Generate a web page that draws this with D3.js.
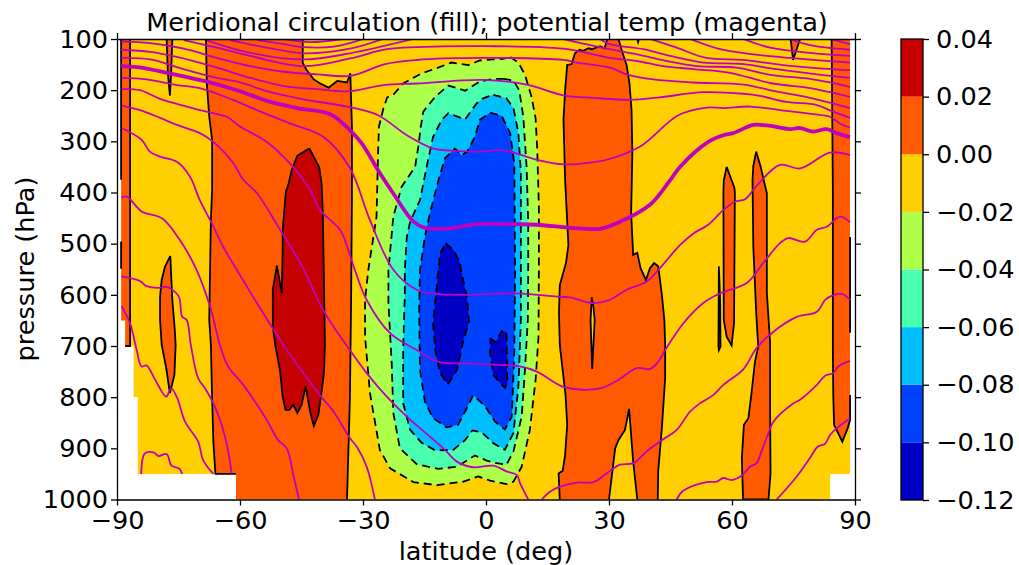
<!DOCTYPE html>
<html>
<head>
<meta charset="utf-8">
<title>Meridional circulation</title>
<style>
  html, body { margin: 0; background: #fff; }
  text { font-family: "DejaVu Sans", sans-serif; fill: #000; }
</style>
</head>
<body>
<div id="container"></div>
<script src="https://d3js.org/d3.v7.min.js"></script>
<script>

// axis ticks
const latTicks = [-90, -60, -30, 0, 30, 60, 90];
const pressureTicks = [100, 200, 300, 400, 500, 600, 700, 800, 900, 1000];

// contour levels and the fill of each band, lowest first
const levels = [-0.12, -0.10, -0.08, -0.06, -0.04, -0.02, 0.00, 0.02, 0.04];
const bandColors = ["#0000c4", "#0040ff", "#00bfff", "#4affad", "#adff4a", "#ffcf00", "#ff5a00", "#c40000"];

// where the field has data, [lat, hPa]; below-ground cells are missing
const validArea = [[-89,100],[88.8,100],[88.8,950],[84,950],[84,1000],[-61,1000],[-61,950],[-85,950],[-85,800],[-86,800],[-86,700],[-88,700],[-88,650],[-89,650]];

// black lines running along the edge of the data
const edgeLines = [
  [[-89,100],[-89,375]],
  [[-89,496],[-89,549]],
  [[88.8,487],[88.8,674]],
  [[88.8,796],[88.8,845]]
];

// 0 to 0.02 areas
const polarStrip = [[-86.8,100],[-86.8,700],[-88,700]];
const spikeSouth = [[-77.9,100],[-77.6,166],[-77.1,211],[-76.8,166],[-76.5,100]];
const southWest = [[-68.3,100],[-68.1,186],[-67.5,252],[-66.8,297],[-66.8,395],[-67.1,454],[-67.5,649],[-67.1,698],[-66.8,802],[-66.5,887],[-66,950],[-61,950]];
const southEast = [[-44.7,100],[-44.7,147],[-43.7,161],[-42,179],[-40.4,187],[-38.4,195],[-36.3,182],[-33.9,185],[-33.1,167],[-32.7,270],[-32.7,415],[-32.9,610],[-33.2,805],[-33.9,1000]];
const islandSouth = [[-77,524],[-76.5,610],[-75.9,669],[-75.7,698],[-76,757],[-77.1,792],[-78,743],[-79.1,698],[-79.5,649],[-79.5,604],[-79.1,571],[-78.3,545]];
const midEast = [[32.3,100],[33.3,127],[34.3,151],[35,187],[35.5,239],[35.7,323],[35.4,440],[35.9,522],[36.9,518],[37.7,548],[39,571],[40,548],[41,538],[42,544],[42.9,600],[43.5,649],[43.7,698],[43.7,762],[42.9,860],[42,945],[41.9,1000]];
const midNotch = [[36.9,1000],[35.9,926],[34.9,823],[33.9,864],[32.3,884],[31.5,900],[30,1000]];
const midWest = [[18,1000],[17.7,949],[18.7,944],[19.3,913],[19.8,854],[19.4,796],[18,698],[17.8,635],[18,581],[19.5,538],[20.1,503],[19.3,376],[18.9,258],[19.3,200],[19.8,151],[20.9,149],[21.7,128],[22.8,121],[23.7,123],[25,118],[25.8,120],[27.8,114],[28.9,118],[29.6,100]];
const tinyDot = [[36.9,100],[37.1,106],[37.3,100]];
const thinSpike = [[56.8,544],[57.1,610],[57.2,701],[56.8,708],[56.7,701]];
const island60 = [[58.7,350],[60.6,391],[60.7,401],[60.5,655],[59.9,699],[58.7,682],[58,649],[57.9,401],[58,376]];
const island65 = [[65.9,320],[67,350],[68,385],[68.5,401],[68.5,596],[69.3,694],[69.3,828],[69.4,949],[68.9,1000],[62.7,1000],[62.4,919],[62.9,854],[64,841],[64.8,789],[65.6,731],[66.4,701],[65.9,635],[65.2,506],[65,376],[65.2,348]];
const spikeNorth = [[74.3,100],[74.9,141],[76.6,100]];
const northStrip = [[84.3,100],[84.6,395],[84.6,708],[84.7,796],[84.9,854],[86.9,887],[88.2,861],[88.8,845]];

// 0.02 to 0.04
const southCore = [[-43.1,314],[-40.7,350],[-40.1,382],[-39.8,440],[-39.4,635],[-39.3,698],[-39.5,750],[-40.1,789],[-40.9,835],[-42,856],[-42.9,828],[-44,779],[-45,815],[-46,831],[-47,815],[-48,825],[-48.9,825],[-49.6,799],[-50.2,750],[-51.4,698],[-52,662],[-52,590],[-51,543],[-49.8,597],[-49.6,512],[-49.6,473],[-48.8,398],[-48.2,385],[-47.4,356],[-46,328]];

// yellow sliver inside the orange cell
const sliver = [[25.8,605],[25.5,649],[25.7,698],[25.9,745],[26.2,698],[26.5,649],[26.2,623]];

// the negative cell, outermost contour first
const cell002 = [[5.9,135],[7.9,146],[9.5,170],[11.1,213],[12.1,255],[12.5,317],[12.9,428],[12.9,551],[12.8,682],[12.1,766],[10.7,864],[8.7,936],[6.7,965],[5,970],[1,963],[-1.9,955],[-5.5,965],[-12,972],[-17.7,966],[-23.4,939],[-25.9,903],[-28.3,792],[-29.5,682],[-29.5,610],[-28.7,551],[-26.7,447],[-26.3,317],[-26.1,271],[-25,235],[-24.1,214],[-22.6,209],[-20.2,187],[-15.7,167],[-12,157],[-8.4,146],[-4.3,151],[-1.5,142],[1.8,140],[4.2,139]];
const cell004 = [[4.2,178],[6.7,181],[8.1,200],[9.1,252],[9.9,350],[10.3,460],[10.3,551],[10.2,649],[9.5,747],[8.7,838],[6.7,906],[5,932],[2.6,929],[0.2,924],[-2.7,914],[-7.1,936],[-11.6,940],[-16.9,931],[-21,900],[-22.6,831],[-23,734],[-23.8,616],[-23.8,551],[-22.6,447],[-20.6,389],[-17.3,350],[-16.5,310],[-15.9,271],[-15.3,242],[-12.4,213],[-9.2,191],[-5.1,201],[-1.5,183],[1.8,178]];
const cell006 = [[1.8,209],[5,216],[6.7,235],[7.9,284],[8.5,362],[8.5,551],[8.5,649],[7.9,779],[6.7,870],[4.6,903],[1.8,890],[-1,869],[-3.3,865],[-5.1,884],[-8,903],[-12.4,904],[-15.7,889],[-18.5,864],[-20.2,812],[-20.2,708],[-19.8,597],[-19.8,551],[-19.3,486],[-18.5,457],[-16.1,415],[-14.3,343],[-12.9,291],[-10.8,258],[-9.2,245],[-5.1,257],[-2.3,226],[-0.7,216]];
const cell008 = [[1,244],[3.8,250],[5.9,284],[6.9,343],[7.1,551],[6.9,714],[6.3,838],[4.6,863],[2.2,848],[-0.2,818],[-3.1,796],[-5.1,828],[-6.8,854],[-9.6,859],[-12.9,841],[-14.9,809],[-16.1,747],[-16.3,630],[-16.1,551],[-14.9,486],[-13.7,441],[-11.6,376],[-10,333],[-7.6,314],[-5.9,327],[-4.6,320],[-2.7,291],[-1.5,258]];
const cell010 = [[-9.8,499],[-7.8,514],[-6.3,538],[-6.1,551],[-4.7,604],[-4.1,652],[-5.5,688],[-7.1,747],[-9.3,775],[-11.2,753],[-12.4,708],[-12.9,656],[-11.6,551],[-11.2,519]];
const cell010b = [[1.1,685],[2.4,693],[3.8,671],[5,672],[5.2,773],[4.6,782],[1.8,757],[1,714]];

// potential temperature, thick one is the tropopause level
const thetaThick = [[-89,153],[-85.1,155],[-77.8,166],[-68.8,182],[-60,202],[-53.4,221],[-46.1,235],[-38,247],[-33.2,278],[-30.3,304],[-25.9,362],[-22.6,402],[-17.7,457],[-14.9,469],[-8.8,470],[-2.3,462],[7.5,462],[12.4,463],[20.5,469],[27.8,471],[31.9,460],[40,424],[44.9,376],[47.3,350],[54.2,301],[57.9,288],[60.3,284],[65.2,268],[68.5,269],[74.1,276],[76.6,274],[79.8,281],[83.1,276],[85.5,284],[88.8,292]];
const theta1 = [[-89,137],[-81.9,140],[-73.7,159],[-65.6,176],[-59.9,185],[-53.4,202],[-44.5,218],[-33.2,233],[-26.3,249],[-19.3,288],[-12.9,314],[-8.8,318],[-0.7,320],[4.1,317],[12.4,336],[18.9,345],[23.7,343],[29.4,336],[37.6,310],[46.9,249],[53.8,234],[57.9,235],[64.4,232],[71.7,239],[79.8,247],[83.9,252],[86.3,265],[88.8,273]];
const theta2 = [[-89,121],[-81.9,125],[-75.4,135],[-65.6,156],[-57.5,176],[-49.3,192],[-41.2,198],[-33.1,202],[-25,190],[-16.9,187],[-0.7,180],[9.9,189],[18.9,210],[26.2,215],[35.1,219],[42.4,214],[53,204],[62.8,207],[66.8,211],[73.3,223],[80.7,229],[84.3,241],[88.8,254]];
const theta3 = [[-89,105],[-81.9,108],[-73.7,119],[-65.6,137],[-57.5,153],[-49.3,164],[-41.2,169],[-33.1,172],[-24.6,149],[-16.9,141],[-0.7,137],[18.9,141],[22.1,146],[30.2,156],[34.3,169],[40.8,179],[50.6,185],[62.8,189],[71,203],[79,215],[88.8,235]];
const theta4 = [[-73.7,102],[-65.6,117],[-57.5,133],[-44.5,153],[-33.2,138],[-24.2,120],[-16.9,116],[-0.7,114],[18.9,119],[30.2,137],[36.8,143],[43.2,153],[50.6,159],[59.5,166],[69.3,186],[79,196],[83.9,204],[88.8,213]];
const theta5 = [[-68,103],[-57.5,127],[-44.5,140],[-33.2,128],[-17.8,100]];
const theta6 = [[-62.4,102],[-53.4,117],[-44.5,128],[-33.2,119],[-25.1,100]];
const theta7 = [[-55.9,102],[-49.3,110],[-44.5,116],[-37.1,115],[-33.2,108],[-29.8,100]];
const theta8 = [[-49.3,100],[-42.9,106],[-34.7,100]];
const theta9 = [[18.9,100],[25.4,112],[30.2,120],[36.8,130],[44.1,143],[51.4,153],[61.1,156],[69.3,170],[79,178],[83.9,185],[88.8,194]];
const theta10 = [[27.8,100],[30.2,110],[38.4,120],[44.9,133],[53,146],[62.8,149],[70.9,159],[80.7,169],[88.8,176]];
const theta11 = [[40,100],[46.5,117],[53.8,137],[62.8,141],[72.5,151],[82.3,158],[88.8,161]];
const theta12 = [[49.8,100],[57.1,120],[65.2,130],[74.1,137],[88.8,146]];
const theta13 = [[62.8,100],[69.3,117],[79,127],[88.8,133]];
const theta14 = [[74.1,100],[79,112],[88.8,121]];
const theta15 = [[83.9,100],[88.8,110]];
const thetaA = [[-88.9,176],[-82.8,179],[-75.4,190],[-69.8,196],[-61.7,219],[-55.9,239],[-47.8,265],[-39.7,291],[-33.2,352],[-28.3,454],[-22.6,551],[-16.9,590],[-12,598],[-4.7,600],[7.5,597],[18,604],[20.5,605],[25.8,616],[29.8,611],[34.3,590],[39.2,574],[42.4,548],[47.3,503],[50.6,480],[54.2,463],[57.9,434],[60.7,418],[63.2,413],[66,387],[71.7,346],[76.6,353],[83.9,322],[88.8,327]];
const thetaB = [[-88.9,198],[-84.4,200],[-79.5,217],[-73,232],[-66.6,245],[-63.2,252],[-60,271],[-53.5,301],[-47.1,350],[-42.9,395],[-40.5,434],[-35.6,473],[-33.3,519],[-32,551],[-29.1,610],[-23.4,675],[-16.9,708],[-11.6,731],[-4.7,734],[1,736],[8.3,740],[12.4,750],[19.3,781],[27.8,783],[31.9,768],[36.8,743],[40,745],[42,731],[43.7,708],[48.1,656],[53,616],[57.1,597],[63.6,577],[67.6,538],[71.7,499],[73.7,489],[77.8,496],[80.7,473],[83.1,467],[86.3,447],[88.8,458]];
const thetaC = [[-88.9,230],[-84.4,239],[-79.5,254],[-75.4,268],[-69.8,284],[-66.5,301],[-61.7,342],[-59.2,375],[-55.9,401],[-50.2,473],[-44.6,548],[-39.7,630],[-33.2,708],[-29.1,753],[-24.2,799],[-18.5,844],[-13.7,877],[-10,903],[-7.1,926],[-3.1,937],[1.8,934],[5,945],[7.5,952],[8.3,968],[10.3,1000]];
const thetaD = [[-88.9,274],[-84,297],[-82,320],[-79.5,330],[-75.4,340],[-72.2,369],[-69.8,415],[-66.9,460],[-64.1,506],[-60.8,551],[-56.8,604],[-52.3,662],[-47.8,717],[-40.5,796],[-37.2,828],[-33.2,880],[-31.5,897],[-29.1,936],[-27.1,1000]];
const thetaF = [[-88.9,410],[-87.6,408],[-84,437],[-79.1,450],[-75,489],[-70.6,551],[-67.3,623],[-64.9,698],[-62.9,740],[-59.2,776],[-53.5,844],[-50.7,884],[-48.6,900],[-47,952],[-45.6,1000]];
const thetaG = [[-88.9,564],[-84.4,573],[-82.8,583],[-79.1,586],[-78,584],[-75,602],[-74.1,643],[-73,649],[-72,698],[-70.2,763],[-68.5,783],[-66.5,812],[-64.5,854],[-63.2,893],[-62,950]];
const thetaH = [[-88.9,622],[-86.8,656],[-85.2,708],[-84,740],[-82.8,738],[-80.7,766],[-78,799],[-76.8,783],[-75.3,802],[-73.4,848],[-70.2,887],[-69,923],[-66.5,950]];
const thetaI = [[-84.1,950],[-83.2,910],[-81.1,908],[-79.9,915],[-77.9,911],[-76.7,934],[-74.8,940],[-74.1,950]];
const thetaN1 = [[13.6,1000],[15.6,985],[18,975],[22.1,967],[26.2,966],[29.4,949],[32.7,932],[35.9,929],[39.2,906],[42.9,884],[46.5,864],[49.8,828],[52.2,812],[55.4,796],[57.9,776],[62.8,745],[66,704],[70.1,672],[75.8,643],[80.7,633],[82.7,610],[84.3,602],[86.8,598],[88.8,610]];
const thetaN2 = [[46.5,1000],[48.1,983],[53.8,966],[56.3,965],[57.9,958],[59.9,962],[62.4,953],[64.4,936],[66,929],[67.2,906],[68.9,870],[70.1,848],[75,812],[76.6,805],[80.7,776],[82.7,758],[84.7,753],[85.9,740],[88.8,729]];
const thetaN3 = [[70.9,1000],[75.8,955],[79,919],[80.9,897],[82.7,891],[83.9,874],[85.5,861],[88.8,841]];

const thetaLines = [theta1, theta2, theta3, theta4, theta5, theta6, theta7, theta8, theta9, theta10, theta11, theta12, theta13, theta14, theta15,
  thetaA, thetaB, thetaC, thetaD, thetaF, thetaG, thetaH, thetaI, thetaN1, thetaN2, thetaN3];

const closed = pts => [...pts, pts[0]];

// band = index into bandColors; fill outline plus the contour pieces to stroke
const regions = [
  {band: 6, fill: [[-89,100], ...polarStrip, [-89,700]], strokes: [polarStrip]},
  {band: 6, fill: spikeSouth, strokes: [spikeSouth]},
  {band: 6, fill: [...southWest, [-61,1000], ...southEast.slice().reverse()], strokes: [southWest, southEast]},
  {band: 6, fill: islandSouth, strokes: [closed(islandSouth)]},
  {band: 6, fill: [...midEast, ...midNotch, ...midWest], strokes: [midEast, midNotch, midWest]},
  {band: 6, fill: tinyDot, strokes: [tinyDot]},
  {band: 6, fill: thinSpike, strokes: [closed(thinSpike)]},
  {band: 6, fill: island60, strokes: [closed(island60)]},
  {band: 6, fill: island65, strokes: [closed(island65)]},
  {band: 6, fill: spikeNorth, strokes: [spikeNorth]},
  {band: 6, fill: [...northStrip, [88.8,100]], strokes: [northStrip]},
  {band: 7, fill: southCore, strokes: [closed(southCore)]},
  {band: 5, fill: sliver, strokes: [closed(sliver)]},
  {band: 4, fill: cell002, strokes: [closed(cell002)], dashed: true},
  {band: 3, fill: cell004, strokes: [closed(cell004)], dashed: true},
  {band: 2, fill: cell006, strokes: [closed(cell006)], dashed: true},
  {band: 1, fill: cell008, strokes: [closed(cell008)], dashed: true},
  {band: 0, fill: cell010, strokes: [closed(cell010)], dashed: true},
  {band: 0, fill: cell010b, strokes: [closed(cell010b)], dashed: true}
];

const width = 1019;
const height = 565;
const fontSize = 25.6;
const margin = {left: 117, right: 855, top: 39, bottom: 499.5};
const cbar = {left: 901, right: 923, top: 39, bottom: 500};

const x = d3.scaleLinear().domain([-90, 90]).range([margin.left, margin.right]);
const y = d3.scaleLinear().domain([100, 1000]).range([margin.top, margin.bottom]);
const cy = d3.scaleLinear().domain([-0.12, 0.04]).range([cbar.bottom, cbar.top]);

const line = d3.line().x(d => x(d[0])).y(d => y(d[1]));
const smoothLine = d3.line().x(d => x(d[0])).y(d => y(d[1])).curve(d3.curveCatmullRom.alpha(0.5));

const svg = d3.select("#container").append("svg")
    .attr("width", width)
    .attr("height", height)
    .style("display", "block");

const defs = svg.append("defs");
defs.append("clipPath").attr("id", "plot-clip")
  .append("rect")
    .attr("x", margin.left).attr("y", margin.top)
    .attr("width", margin.right - margin.left)
    .attr("height", margin.bottom - margin.top);
defs.append("clipPath").attr("id", "valid-clip")
  .append("path").attr("d", line(validArea) + "Z");

const fills = svg.append("g").attr("clip-path", "url(#valid-clip)");
const lines = svg.append("g").attr("clip-path", "url(#plot-clip)");

// yellow band is the background of the whole valid area
fills.append("path")
    .attr("d", line(validArea) + "Z")
    .attr("fill", bandColors[5]);

fills.selectAll(".region")
    .data(regions)
  .enter().append("path")
    .attr("class", "region")
    .attr("d", d => line(d.fill) + "Z")
    .attr("fill", d => bandColors[d.band]);

regions.forEach(r => {
  r.strokes.forEach(s => {
    lines.append("path")
        .attr("d", line(s))
        .attr("fill", "none")
        .attr("stroke", "#000")
        .attr("stroke-width", 1.8)
        .attr("stroke-dasharray", r.dashed ? "8,5" : null);
  });
});

edgeLines.forEach(s => {
  lines.append("path")
      .attr("d", line(s))
      .attr("fill", "none")
      .attr("stroke", "#000")
      .attr("stroke-width", 1.8);
});

lines.selectAll(".theta")
    .data(thetaLines)
  .enter().append("path")
    .attr("class", "theta")
    .attr("d", smoothLine)
    .attr("fill", "none")
    .attr("stroke", "#bf00bf")
    .attr("stroke-width", 1.8)
    .attr("stroke-linejoin", "round");

lines.append("path")
    .attr("d", smoothLine(thetaThick))
    .attr("fill", "none")
    .attr("stroke", "#bf00bf")
    .attr("stroke-width", 3.8)
    .attr("stroke-linejoin", "round");

// axes
const minus = s => String(s).replace("-", "\u2212");
const styleAxis = (g) => {
  g.selectAll("text").style("font-size", fontSize + "px");
  g.selectAll("line,path").attr("stroke", "#000").attr("stroke-width", 1.3);
};

svg.append("g")
    .attr("transform", `translate(0,${margin.bottom})`)
    .call(d3.axisBottom(x).tickValues(latTicks).tickFormat(minus).tickSize(6).tickSizeOuter(0).tickPadding(5))
    .call(styleAxis);
svg.append("g")
    .attr("transform", `translate(0,${margin.top})`)
    .call(d3.axisTop(x).tickValues(latTicks).tickFormat("").tickSize(6).tickSizeOuter(0))
    .call(styleAxis);
svg.append("g")
    .attr("transform", `translate(${margin.left},0)`)
    .call(d3.axisLeft(y).tickValues(pressureTicks).tickFormat(d => d).tickSize(6).tickSizeOuter(0).tickPadding(3))
    .call(styleAxis);
svg.append("g")
    .attr("transform", `translate(${margin.right},0)`)
    .call(d3.axisRight(y).tickValues(pressureTicks).tickFormat("").tickSize(6).tickSizeOuter(0))
    .call(styleAxis);

svg.append("text")
    .attr("x", 487)
    .attr("y", 31)
    .attr("text-anchor", "middle")
    .style("font-size", fontSize + "px")
    .text("Meridional circulation (fill); potential temp (magenta)");
svg.append("text")
    .attr("x", 486)
    .attr("y", 560)
    .attr("text-anchor", "middle")
    .style("font-size", fontSize + "px")
    .text("latitude (deg)");
svg.append("text")
    .attr("transform", "translate(34,269) rotate(-90)")
    .attr("text-anchor", "middle")
    .style("font-size", fontSize + "px")
    .text("pressure (hPa)");

// colorbar
svg.selectAll(".cbar")
    .data(bandColors)
  .enter().append("rect")
    .attr("class", "cbar")
    .attr("x", cbar.left)
    .attr("width", cbar.right - cbar.left)
    .attr("y", (d, i) => cy(levels[i + 1]))
    .attr("height", (d, i) => cy(levels[i]) - cy(levels[i + 1]))
    .attr("fill", d => d);
svg.append("rect")
    .attr("x", cbar.left).attr("y", cbar.top)
    .attr("width", cbar.right - cbar.left).attr("height", cbar.bottom - cbar.top)
    .attr("fill", "none").attr("stroke", "#000").attr("stroke-width", 1.3);
svg.append("g")
    .attr("transform", `translate(${cbar.right},0)`)
    .call(d3.axisRight(cy).tickValues(levels).tickFormat(d => minus(d3.format(".2f")(d))).tickSize(6).tickSizeOuter(0).tickPadding(7))
    .call(styleAxis)
    .call(g => g.select(".domain").remove());

</script>
</body>
</html>
